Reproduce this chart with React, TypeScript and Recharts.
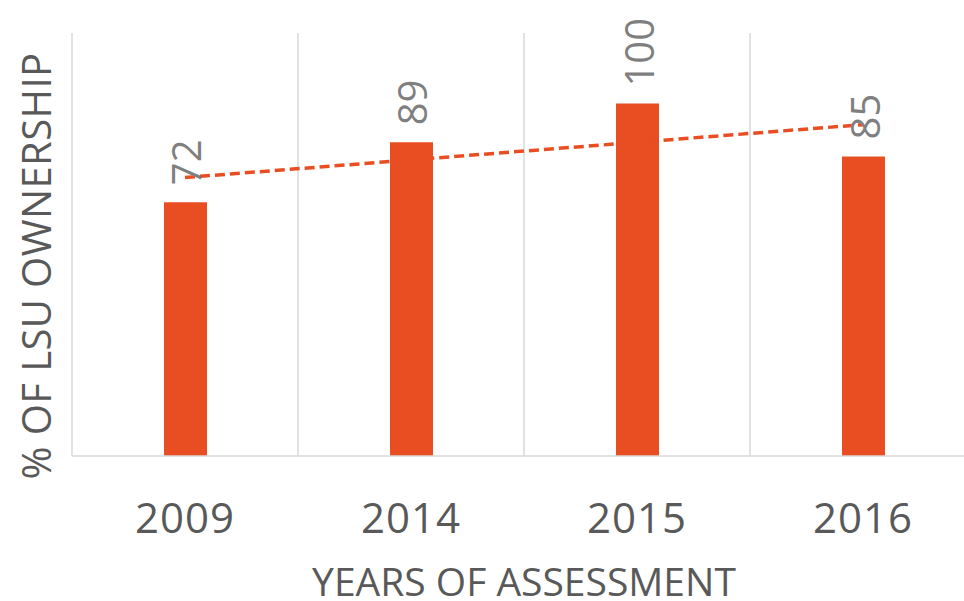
import React from "react";
import {
  ComposedChart,
  Bar,
  Line,
  XAxis,
  YAxis,
  CartesianGrid,
  LabelList,
} from "recharts";

const years = ["2009", "2014", "2015", "2016"];
const ownership = [72, 89, 100, 85];
// linear trendline
const trend = [79, 84, 89, 94];
const yDomain = [0, 120];

const data = years.map((year, i) => ({
  year,
  value: ownership[i],
  trend: trend[i],
}));

const ORANGE = "#e84e22";
const GRID = "#d9d9d9";
const TEXT = "#595959";
const LABEL = "#7f7f7f";
const FONT = "'Open Sans', 'DejaVu Sans', sans-serif";

// rotated value label above each bar
function BarValue(props: any) {
  const { x, y, width, value } = props;
  const cx = x + width / 2;
  const cy = y - 17;
  return (
    <text
      x={cx}
      y={cy}
      dy={16}
      transform={`rotate(-90 ${cx} ${cy})`}
      textAnchor="start"
      fill={LABEL}
      fontSize={40}
      fontFamily={FONT}
    >
      {value}
    </text>
  );
}

function YearTick(props: any) {
  const { x, y, payload } = props;
  return (
    <text
      x={x}
      y={y + 77}
      textAnchor="middle"
      fill={TEXT}
      fontSize={42}
      fontFamily={FONT}
      letterSpacing={1}
    >
      {payload.value}
    </text>
  );
}

// both axis titles, placed from the x axis box
function AxisTitles({ viewBox }: any) {
  const yx = viewBox.x - 35;
  const yy = viewBox.y - 190;
  return (
    <g>
      <text
        x={viewBox.x + viewBox.width / 2}
        y={viewBox.y + 140}
        textAnchor="middle"
        fill={TEXT}
        fontSize={39}
        fontFamily={FONT}
      >
        YEARS OF ASSESSMENT
      </text>
      <text
        x={yx}
        y={yy}
        dy={14}
        transform={`rotate(-90 ${yx} ${yy})`}
        textAnchor="middle"
        fill={TEXT}
        fontSize={40}
        fontFamily={FONT}
        letterSpacing={0.4}
      >
        % OF LSU OWNERSHIP
      </text>
    </g>
  );
}

export default function App() {
  return (
    <div
      style={{
        position: "absolute",
        left: 0,
        top: 0,
        width: 964,
        height: 601,
        overflow: "hidden",
        background: "#fff",
      }}
    >
      <ComposedChart
        width={990}
        height={601}
        data={data}
        margin={{ top: 33, right: 14, left: 72, bottom: 0 }}
      >
        <CartesianGrid
          horizontal={false}
          stroke={GRID}
          strokeWidth={1.5}
          verticalCoordinatesGenerator={({ offset }: any) =>
            [0, 1, 2, 3, 4].map((i) => offset.left + (i * offset.width) / years.length)
          }
        />
        <XAxis
          dataKey="year"
          height={145}
          tickLine={false}
          tickSize={0}
          tickMargin={0}
          axisLine={{ stroke: GRID, strokeWidth: 1.5 }}
          tick={<YearTick />}
          label={{ content: (p: any) => <AxisTitles {...p} /> }}
        />
        <YAxis
          domain={yDomain}
          width={0}
          axisLine={false}
          tickLine={false}
          tick={false}
        />
        <Bar dataKey="value" fill={ORANGE} barSize={43} isAnimationActive={false}>
          <LabelList dataKey="value" content={<BarValue />} />
        </Bar>
        <Line
          type="linear"
          dataKey="trend"
          stroke={ORANGE}
          strokeWidth={3.5}
          strokeDasharray="10 5"
          dot={false}
          activeDot={false}
          isAnimationActive={false}
        />
      </ComposedChart>
    </div>
  );
}
